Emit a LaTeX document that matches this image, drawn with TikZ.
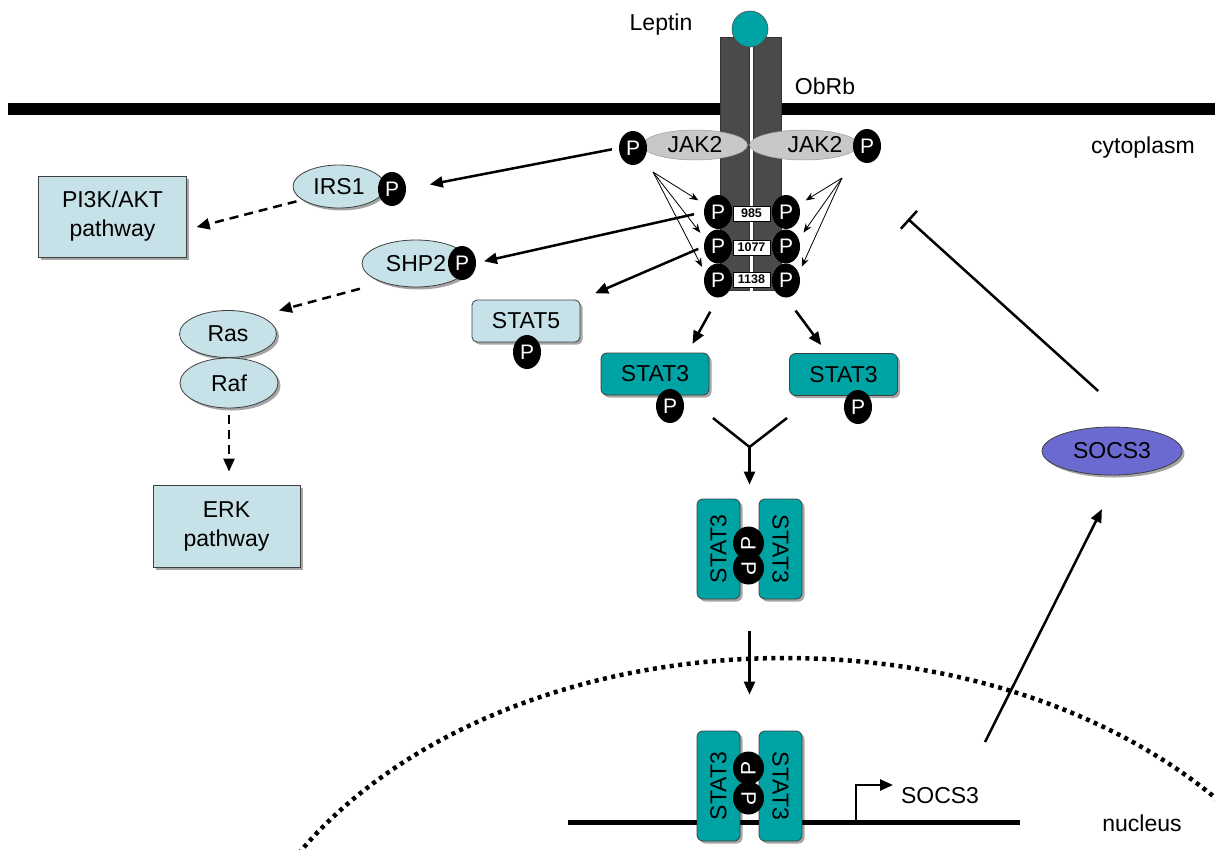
\documentclass[tikz,border=0pt]{standalone}
\usepackage{fontspec}
\setmainfont{Liberation Sans}
\usepackage{graphicx}
\usetikzlibrary{shapes.geometric,arrows.meta,shadows,calc}
\definecolor{tealc}{RGB}{0,163,163}
\definecolor{lblue}{RGB}{198,226,232}
\definecolor{rgrey}{RGB}{74,74,74}
\definecolor{jgrey}{RGB}{200,200,200}
\definecolor{socsc}{RGB}{106,106,208}
\newcommand{\fsz}{\fontsize{23}{29}\selectfont}
\begin{document}
\begin{tikzpicture}[x=1pt,y=-1pt,
  lbl/.style={font=\fsz, inner sep=0},
  shd/.style={drop shadow={shadow xshift=2.5pt, shadow yshift=-2.5pt, fill=black, opacity=0.35}},
  pp/.style={ellipse, fill=black, text=white, minimum width=28, minimum height=34, inner sep=0, font=\fontsize{21}{21}\selectfont},
  lbbox/.style={rectangle, fill=lblue, draw=black!75, line width=0.8pt, shd, align=center, font=\fsz, inner sep=0},
  lbrbox/.style={lbbox, rounded corners=5pt},
  lbell/.style={ellipse, fill=lblue, draw=black!75, line width=0.8pt, shd, font=\fsz, inner sep=0},
  tbox/.style={rectangle, rounded corners=6pt, fill=tealc, draw=black!75, line width=0.8pt, shd, font=\fsz, inner sep=0, minimum width=108, minimum height=42},
  vbox/.style={rectangle, rounded corners=6pt, fill=tealc, draw=black!75, line width=0.8pt, shd, font=\fsz, inner sep=0, minimum width=43},
  recbar/.style={rectangle, fill=rgrey, draw=black!80, line width=0.6pt, inner sep=0, minimum width=28.5, minimum height=253},
  jak/.style={ellipse, fill=jgrey, draw=black!40, line width=0.5pt, font=\fsz, inner sep=0, minimum width=105, minimum height=30},
  site/.style={rectangle, fill=white, draw=black, line width=0.8pt, inner sep=0, minimum width=37, minimum height=15, font=\fontsize{12.5}{12.5}\bfseries},
  thk/.style={line width=2.5pt, -{Triangle[length=13pt,width=11pt]}},
  dsh/.style={thk, dash pattern=on 9pt off 6pt},
  thn/.style={line width=0.8pt, -{Stealth[length=9pt,width=7pt]}},
  inh/.style={line width=2.5pt, -{Bar[width=24pt,line width=2.5pt]}}
]
\useasboundingbox (0,0) rectangle (1215,849);

% nucleus envelope
\begin{scope}
\clip (0,0) rectangle (1215,849);
\draw[line width=4.5pt, dash pattern=on 4pt off 4.5pt] (785,1050) ellipse [x radius=562pt, y radius=392pt];
\end{scope}

% membrane
\draw[line width=12pt] (8,109) -- (1215,109);

% receptor
\node[recbar] (recL) at (735,163.5) {};
\node[recbar] (recR) at (767.5,163.5) {};
\draw[white, line width=3.5pt] (751.3,45) -- (751.3,292);
\node[circle, fill=tealc, draw=black!70, line width=0.6pt, minimum size=36, inner sep=0] (leptin) at (750,29) {};

\node[lbl] (leptinT) at (661,25) {Leptin};
\node[lbl] (obrbT) at (825,86) {ObRb};
\node[lbl] (cytoT) at (1143,148) {cytoplasm};
\node[lbl] (nucT) at (1142,823) {nucleus};

% JAK2
\node[jak] (jakL) at (695,145) {JAK2\hspace{16pt}};
\node[jak] (jakR) at (804,145) {\hspace{22pt}JAK2};
\node[pp] (jakPL) at (633,148) {P};
\node[pp] (jakPR) at (867,146) {P};

% phosphosites
\node[pp] (p1L) at (718,212) {P};
\node[pp] (p2L) at (718,246.5) {P};
\node[pp] (p3L) at (718,280.5) {P};
\node[pp] (p1R) at (786,212) {P};
\node[pp] (p2R) at (786,246.5) {P};
\node[pp] (p3R) at (786,280.5) {P};
\node[site] (s985) at (751.5,213.5) {985};
\node[site] (s1077) at (751.5,247.5) {1077};
\node[site] (s1138) at (751.5,279.5) {1138};

% thin phosphorylation arrows
\coordinate (jl) at (653,172);
\coordinate (jr) at (842,178);
\draw[thn, shorten >=8pt] (jl) -- (p1L.150);
\draw[thn, shorten >=8pt] (jl) -- (p2L.150);
\draw[thn, shorten >=7pt] (jl) -- (p3L.150);
\draw[thn, shorten >=8pt] (jr) -- (p1R.30);
\draw[thn, shorten >=8pt] (jr) -- (p2R.30);
\draw[thn, shorten >=7pt] (jr) -- (p3R.30);

% left branch
\node[lbbox, minimum width=148, minimum height=81] (pi3k) at (112.5,216.5) {PI3K/AKT\\pathway};
\node[lbell, minimum width=92, minimum height=43] (irs) at (339,186.5) {IRS1};
\node[pp] (irsP) at (392,189) {P};
\node[lbell, minimum width=108, minimum height=47] (shp) at (416,263.5) {SHP2};
\node[pp] (shpP) at (462,263) {P};
\node[lbell, minimum width=97, minimum height=47] (ras) at (228,334) {Ras};
\node[lbell, minimum width=98, minimum height=50] (raf) at (229,383) {Raf};
\node[lbbox, minimum width=147, minimum height=82] (erk) at (226.5,526) {ERK\\pathway};
\node[lbrbox, minimum width=108, minimum height=42] (stat5) at (526,321) {STAT5};
\node[pp] (stat5P) at (527,352) {P};

\draw[thk, shorten <=7pt, shorten >=24pt] (jakPL.west) -- (irsP.east);
\draw[thk, shorten <=10pt, shorten >=8pt] (p1L.west) -- (shpP.east);
\draw[thk, shorten <=6pt, shorten >=16pt] (p2L.west) -- (stat5.north east);
\draw[dsh, shorten <=6pt, shorten >=10pt] (irs.200) -- (pi3k.-10);
\draw[dsh, shorten <=24pt, shorten >=20pt] (shp.210) -- (ras.30);
\draw[dsh, shorten <=7pt, shorten >=13pt] (raf.south) -- (raf.south |- erk.north);

% STAT3
\node[tbox] (s3L) at (655,374) {STAT3};
\node[pp] (s3LP) at (670,406) {P};
\node[tbox] (s3R) at (843.5,374.5) {STAT3};
\node[pp] (s3RP) at (858,407) {P};
\draw[thk, shorten <=16pt, shorten >=10pt] (p3L.south) -- ($(s3L.north)!0.6!(s3L.north east)$);
\draw[thk, shorten <=16pt, shorten >=10pt] (p3R.south) -- ($(s3R.north)!0.3!(s3R.north west)$);

% dimer 1
\node[vbox, minimum height=100] (d1L) at (718.5,549) {\rotatebox{90}{STAT3}};
\node[vbox, minimum height=100] (d1R) at (780.5,549) {\rotatebox{-90}{STAT3}};
\node[pp, minimum width=31, minimum height=33] (d1P1) at (748.5,543) {\rotatebox{90}{P}};
\node[pp, minimum width=31, minimum height=33] (d1P2) at (748.5,568) {\rotatebox{-90}{P}};

\coordinate (ya) at (713,418);
\coordinate (yb) at (787,418);
\coordinate (yj) at (749.5,447);
\draw[line width=2.5pt] (ya) -- (yj) -- (yb);
\draw[thk, shorten >=14pt] (yj) -- ($(d1L.north east)!0.5!(d1R.north west)$);

% DNA and dimer 2
\draw[line width=5pt] (568,822) -- (1020,822);
\coordinate (prom) at (856,822);
\coordinate (promTip) at (893,785);
\draw[line width=2.5pt, -{Triangle[length=13pt,width=11pt]}] (prom) |- (promTip);
\node[lbl] (gene) at (940,796) {SOCS3};

\node[vbox, minimum height=110] (d2L) at (718.5,786) {\rotatebox{90}{STAT3}};
\node[vbox, minimum height=110] (d2R) at (780.5,786) {\rotatebox{-90}{STAT3}};
\node[pp, minimum width=31, minimum height=33] (d2P1) at (748.5,768) {\rotatebox{90}{P}};
\node[pp, minimum width=31, minimum height=33] (d2P2) at (748.5,798) {\rotatebox{-90}{P}};

\draw[thk, shorten <=32pt, shorten >=36pt] ($(d1L.south east)!0.5!(d1R.south west)$) -- ($(d2L.north east)!0.5!(d2R.north west)$);

% SOCS3 protein
\node[ellipse, fill=socsc, draw=black!75, line width=0.8pt, shd, font=\fsz, inner sep=0, minimum width=140, minimum height=48] (socs) at (1112,451) {SOCS3};
\coordinate (sa) at (985,742);
\draw[thk, shorten >=38pt] (sa) -- (socs.-74);
\coordinate (inhT) at (908,219);
\draw[inh, shorten <=56pt] (socs.39) -- (inhT);

\end{tikzpicture}
\end{document}
